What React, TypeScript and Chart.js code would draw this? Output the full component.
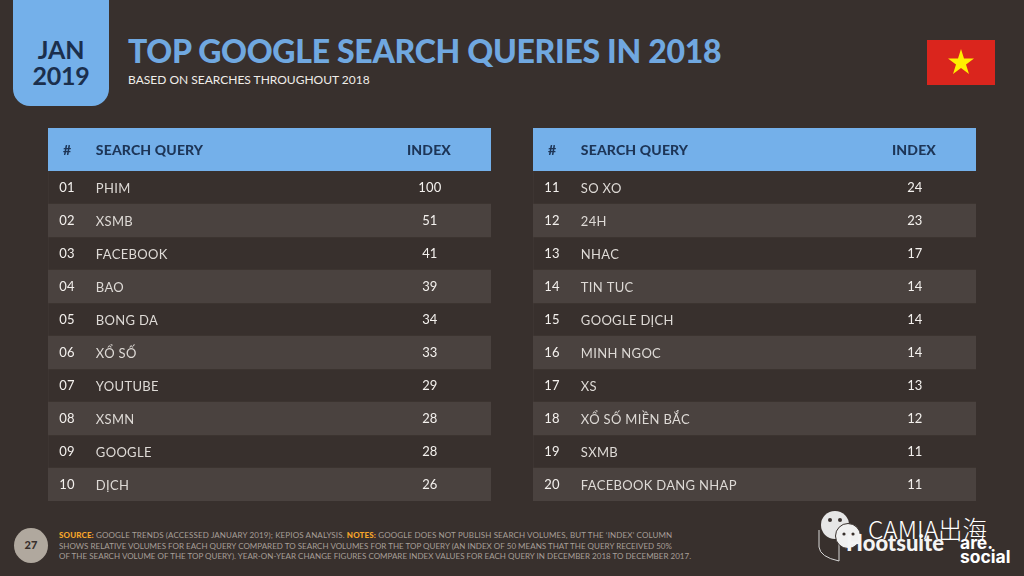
import React, { useEffect, useRef } from "react";
import { Chart, registerables } from "chart.js";

Chart.register(...registerables);

const ranksLeft = ["01", "02", "03", "04", "05", "06", "07", "08", "09", "10"];
const queriesLeft = ["PHIM", "XSMB", "FACEBOOK", "BAO", "BONG DA", "XỔ SỐ", "YOUTUBE", "XSMN", "GOOGLE", "DỊCH"];
const indexLeft = [100, 51, 41, 39, 34, 33, 29, 28, 28, 26];

const ranksRight = ["11", "12", "13", "14", "15", "16", "17", "18", "19", "20"];
const queriesRight = ["SO XO", "24H", "NHAC", "TIN TUC", "GOOGLE DỊCH", "MINH NGOC", "XS", "XỔ SỐ MIỀN BẮC", "SXMB", "FACEBOOK DANG NHAP"];
const indexRight = [24, 23, 17, 14, 14, 14, 13, 12, 11, 11];

const stripeFlags = [0, 1, 0, 1, 0, 1, 0, 1, 0, 1];
const headers = ["#", "SEARCH QUERY", "INDEX"];

const BG = "#38302d";
const BLUE = "#74b0ea";
const NAVY = "#1d3557";
const STRIPE = "#4a423f";
const FONT = "Lato, sans-serif";

const tablePlugin = {
  id: "tableText",
  afterDraw(chart: any) {
    const { ctx, chartArea } = chart;
    const xs = chart.scales.x;
    const ys = chart.scales.y;
    const ranks: string[] = chart.options.plugins.tableText.ranks;
    const queries = chart.data.labels as string[];
    const values = chart.data.datasets[1].data as number[];
    const colRank = xs.getPixelForValue(0.043);
    const colQuery = xs.getPixelForValue(0.108);
    const colIndex = xs.getPixelForValue(0.862);
    ctx.save();
    ctx.fillStyle = BLUE;
    ctx.fillRect(chartArea.left, 0, chartArea.right - chartArea.left, chartArea.top);
    ctx.textBaseline = "middle";
    ctx.fillStyle = NAVY;
    ctx.font = `900 14px ${FONT}`;
    ctx.letterSpacing = "0.15px";
    ctx.textAlign = "center";
    const headY = chartArea.top / 2 + 0.5;
    ctx.fillText(headers[0], colRank, headY);
    ctx.textAlign = "left";
    ctx.fillText(headers[1], colQuery, headY);
    ctx.textAlign = "center";
    ctx.fillText(headers[2], xs.getPixelForValue(0.86), headY);
    queries.forEach((q, i) => {
      const y = ys.getPixelForValue(i);
      ctx.textAlign = "center";
      ctx.fillStyle = "#f4f1ee";
      ctx.font = `400 13px ${FONT}`;
      ctx.letterSpacing = "0.2px";
      ctx.fillText(ranks[i], colRank, y + 0.5);
      ctx.fillText(String(values[i]), colIndex, y + 0.5);
      ctx.textAlign = "left";
      ctx.fillStyle = "#dedad6";
      ctx.letterSpacing = "0.32px";
      ctx.fillText(q, colQuery, y + 1.5);
    });
    ctx.restore();
  },
};

function Panel({ left, ranks, queries, values }: { left: number; ranks: string[]; queries: string[]; values: number[] }) {
  const ref = useRef<HTMLCanvasElement>(null);
  useEffect(() => {
    const chart = new Chart(ref.current as HTMLCanvasElement, {
      type: "bar",
      data: {
        labels: queries,
        datasets: [
          { label: "Row", data: stripeFlags, backgroundColor: STRIPE, xAxisID: "x", grouped: false, barPercentage: 1, categoryPercentage: 1 },
          { label: "Index", data: values, backgroundColor: "rgba(0,0,0,0)", xAxisID: "xIndex", grouped: false, barPercentage: 1, categoryPercentage: 1 },
        ],
      } as any,
      options: {
        indexAxis: "y",
        animation: false,
        responsive: false,
        devicePixelRatio: 1,
        layout: { padding: { top: 43, left: 0, right: 0, bottom: 0 } },
        scales: {
          x: { display: false, min: 0, max: 1 },
          xIndex: { display: false, min: 0, max: 100 },
          y: { display: false },
        },
        plugins: { legend: { display: false }, tooltip: { enabled: false }, tableText: { ranks } },
      } as any,
      plugins: [tablePlugin as any],
    });
    return () => chart.destroy();
  }, []);
  return <canvas ref={ref} width={443} height={373} style={{ position: "absolute", left, top: 128, width: 443, height: 373 }} />;
}

const abs = (style: React.CSSProperties): React.CSSProperties => ({ position: "absolute", whiteSpace: "nowrap", fontFamily: FONT, ...style });

export default function App() {
  const note = { color: "#f5a52a", fontWeight: 900 };
  const foot: React.CSSProperties = { left: 59, fontSize: 8, lineHeight: "10px", color: "#a79f98", letterSpacing: "0.02px" };
  return (
    <div style={{ position: "fixed", left: 0, top: 0, width: 1024, height: 576, overflow: "hidden", background: BG }}>
      <div style={{ position: "absolute", left: 13, top: -10, width: 96, height: 116, background: BLUE, borderRadius: "0 0 17px 17px" }} />
      <div style={abs({ left: 13, width: 96, top: 36, textAlign: "center", fontSize: 25, lineHeight: "26px", fontWeight: 700, color: "#1b2f4d", letterSpacing: "-0.2px" })}>JAN<br />2019</div>
      <div style={abs({ left: 128, top: 32, fontSize: 32, lineHeight: "38px", fontWeight: 900, color: "#70a8e0", letterSpacing: "-0.3px" })}>TOP GOOGLE SEARCH QUERIES IN 2018</div>
      <div style={abs({ left: 128, top: 72, fontSize: 12, lineHeight: "16px", color: "#f0ede9" })}>BASED ON SEARCHES THROUGHOUT 2018</div>

      <svg style={{ position: "absolute", left: 927, top: 40 }} width={68} height={45} viewBox="0 0 68 45">
        <rect width={68} height={45} fill="#da251d" />
        <polygon fill="#ffee00" points="34,9 37,18.5 47,18.5 39,24.5 42,34 34,28 26,34 29,24.5 21,18.5 31,18.5" />
      </svg>

      <Panel left={48} ranks={ranksLeft} queries={queriesLeft} values={indexLeft} />
      <Panel left={533} ranks={ranksRight} queries={queriesRight} values={indexRight} />

      <div style={{ position: "absolute", left: 14, top: 528, width: 34, height: 35, borderRadius: "50%", background: "#b0a89e" }} />
      <div style={abs({ left: 14, width: 34, top: 537, textAlign: "center", fontSize: 11, lineHeight: "16px", fontWeight: 900, color: "#38302d" })}>27</div>
      <div style={abs({ ...foot, top: 530, letterSpacing: "0.13px" })}><span style={note}>SOURCE:</span> GOOGLE TRENDS (ACCESSED JANUARY 2019); KEPIOS ANALYSIS. <span style={note}>NOTES:</span> GOOGLE DOES NOT PUBLISH SEARCH VOLUMES, BUT THE ‘INDEX’ COLUMN</div>
      <div style={abs({ ...foot, top: 541 })}>SHOWS RELATIVE VOLUMES FOR EACH QUERY COMPARED TO SEARCH VOLUMES FOR THE TOP QUERY (AN INDEX OF 50 MEANS THAT THE QUERY RECEIVED 50%</div>
      <div style={abs({ ...foot, top: 551 })}>OF THE SEARCH VOLUME OF THE TOP QUERY). YEAR-ON-YEAR CHANGE FIGURES COMPARE INDEX VALUES FOR EACH QUERY IN DECEMBER 2018 TO DECEMBER 2017.</div>

      <svg style={{ position: "absolute", left: 810, top: 505 }} width={60} height={62} viewBox="0 0 60 62">
        <path d="M9 25 V42 Q10 52 29 56 V36" fill="none" stroke="#d8d8d8" strokeWidth={1} />
        <circle cx={25} cy={20} r={14} fill="#e6e6e6" />
        <circle cx={38} cy={31} r={12.5} fill="#f0f0f0" stroke={BG} strokeWidth={1} />
        <circle cx={20} cy={15} r={2} fill={BG} />
        <circle cx={30} cy={15} r={2} fill={BG} />
        <circle cx={34} cy={29} r={1.6} fill={BG} />
        <circle cx={43} cy={29} r={1.6} fill={BG} />
      </svg>
      <div style={abs({ left: 846, top: 530, fontSize: 22, lineHeight: "26px", fontWeight: 900, color: "#f4f4f4" })}>Hootsuite</div>
      <div style={abs({ left: 868, top: 515, fontSize: 24.5, lineHeight: "28px", fontWeight: 300, color: "#ffffff", fontFamily: "'Noto Sans CJK SC', Lato, sans-serif" })}>CAMIA出海</div>
      <div style={abs({ left: 960, top: 536, fontSize: 17.5, lineHeight: "14px", fontWeight: 700, color: "#ffffff", fontFamily: "Inter, sans-serif" })}>are.<br />social</div>
    </div>
  );
}
